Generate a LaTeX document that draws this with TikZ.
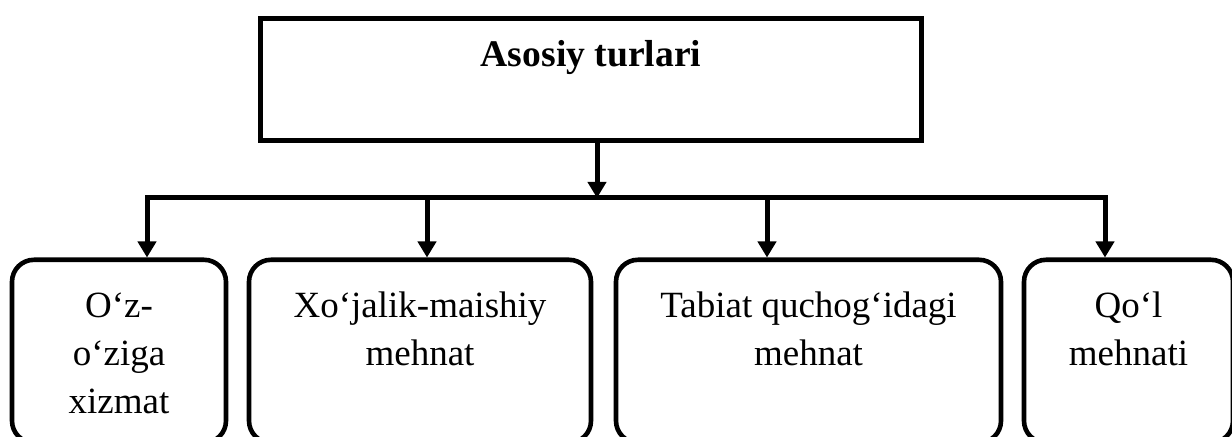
\documentclass[tikz,border=0pt]{standalone}
\usepackage{fontspec}
\setmainfont{Liberation Serif}
\usetikzlibrary{arrows.meta,positioning}
\tikzset{
    topblock/.style = {draw, rectangle, line width=2.5pt, inner sep=0pt,
        minimum width=330.5pt, text height=23.75pt, text depth=37.25pt,
        font=\fontsize{18.8}{24}\selectfont\bfseries},
    kind/.style = {draw, rectangle, rounded corners=11pt, line width=2.3pt,
        inner sep=0pt, text height=29pt, text depth=62.5pt,
        font=\fontsize{18.5}{24}\selectfont},
    bus/.style = {draw, line width=2.5pt, line cap=rect},
    arrow/.style = {draw, line width=2.5pt, -{Triangle[length=8pt,width=9pt]}}
}
\newcommand\kindtext[1]{\begin{tabular}[t]{@{}c@{}}#1\end{tabular}}
\begin{document}
\begin{tikzpicture}[x=0.5pt, y=-0.5pt]
        \useasboundingbox (0,0) rectangle (1232,437);
        \node [topblock, anchor=north, name=main] at (591,16.5) {Asosiy turlari};
        \node [kind, anchor=north, minimum width=107pt, name=kind1] at (119,257.5) {\kindtext{O‘z-\\o‘ziga\\xizmat}};
        \node [kind, anchor=north, minimum width=171pt, name=kind2] at (420,257.5) {\kindtext{Xo‘jalik-maishiy\\mehnat}};
        \node [kind, anchor=north, minimum width=192.5pt, name=kind3] at (808.5,257.5) {\kindtext{Tabiat quchog‘idagi\\mehnat}};
        \node [kind, anchor=north, minimum width=104.5pt, name=kind4] at (1128.5,257.5) {\kindtext{Qo‘l\\mehnati}};
        % bus line under the main box
        \coordinate (split) at (597,198);
        \coordinate (bus1) at (147,198);
        \coordinate (bus2) at (427,198);
        \coordinate (bus3) at (767,198);
        \coordinate (bus4) at (1105,198);
        \draw [arrow] (main.south -| split) -- (split);
        \draw [bus] (bus1) -- (bus4);
        \foreach \a in {1,2,...,4}{
            \draw [arrow] (bus\a) -- (bus\a |- kind\a.north);
        }
\end{tikzpicture}
\end{document}
